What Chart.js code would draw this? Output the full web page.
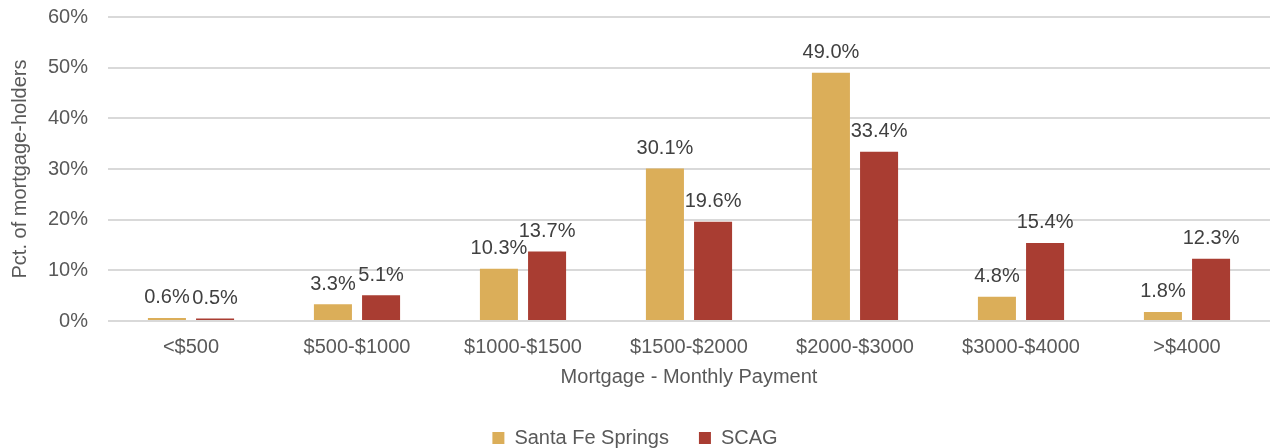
<!DOCTYPE html>
<html lang="en">
<head>
  <meta charset="UTF-8">
  <title>Mortgage - Monthly Payment</title>
  <style>
    html, body {
      margin: 0;
      padding: 0;
      background: #ffffff;
    }
    .wrap {
      width: 1270px;
      height: 448px;
      position: relative;
    }
  </style>
  <script src="https://cdn.jsdelivr.net/npm/chart.js"></script>
</head>
<body>
  <div class="wrap">
    <canvas id="mortgageChart"></canvas>
  </div>
  <script>
    const categories = ['<$500', '$500-$1000', '$1000-$1500', '$1500-$2000', '$2000-$3000', '$3000-$4000', '>$4000'];
    const santaFeSprings = [0.6, 3.3, 10.3, 30.1, 49.0, 4.8, 1.8];
    const scag = [0.5, 5.1, 13.7, 19.6, 33.4, 15.4, 12.3];
    const yTicks = [0, 10, 20, 30, 40, 50, 60];

    const fontFamily = '"Liberation Sans", Arial, sans-serif';
    const textGray = '#595959';

    // draws the value above each bar
    const barLabels = {
      id: 'barLabels',
      afterDatasetsDraw(chart) {
        const ctx = chart.ctx;
        ctx.save();
        ctx.font = '20px ' + fontFamily;
        ctx.fillStyle = '#404040';
        ctx.textAlign = 'center';
        ctx.textBaseline = 'bottom';
        chart.data.datasets.forEach((ds, i) => {
          chart.getDatasetMeta(i).data.forEach((bar, j) => {
            ctx.fillText(ds.data[j].toFixed(1) + '%', bar.x, bar.y - 10);
          });
        });
        ctx.restore();
      }
    };

    new Chart(document.getElementById('mortgageChart'), {
      type: 'bar',
      data: {
        labels: categories,
        datasets: [
          {
            label: 'Santa Fe Springs',
            data: santaFeSprings,
            backgroundColor: '#DBAE59',
            categoryPercentage: 0.58,
            barPercentage: 0.79
          },
          {
            label: 'SCAG',
            data: scag,
            backgroundColor: '#A93D32',
            categoryPercentage: 0.58,
            barPercentage: 0.79
          }
        ]
      },
      options: {
        responsive: true,
        maintainAspectRatio: false,
        animation: false,
        layout: {
          padding: { top: 17, right: 0, left: 0, bottom: -10 }
        },
        plugins: {
          legend: {
            position: 'bottom',
            labels: {
              color: textGray,
              font: { family: fontFamily, size: 20 },
              boxWidth: 12,
              boxHeight: 12,
              padding: 30
            }
          },
          tooltip: { enabled: false }
        },
        scales: {
          x: {
            grid: { display: false },
            border: { display: false },
            ticks: {
              color: textGray,
              font: { family: fontFamily, size: 20 },
              padding: 6
            },
            title: {
              display: true,
              text: 'Mortgage - Monthly Payment',
              color: textGray,
              font: { family: fontFamily, size: 20 },
              padding: { top: 0, bottom: 9 }
            }
          },
          y: {
            min: 0,
            max: 60,
            afterBuildTicks(scale) {
              scale.ticks = yTicks.map(v => ({ value: v }));
            },
            afterFit(scale) {
              scale.width = 108;
              scale.paddingTop = 0;
              scale.paddingBottom = 0;
            },
            grid: { color: '#d9d9d9', lineWidth: 2, drawTicks: false },
            border: { display: false },
            ticks: {
              color: textGray,
              font: { family: fontFamily, size: 20 },
              padding: 20,
              callback: v => v + '%'
            },
            title: {
              display: true,
              text: 'Pct. of mortgage-holders',
              color: textGray,
              font: { family: fontFamily, size: 20 },
              padding: { top: 8, bottom: 4 }
            }
          }
        }
      },
      plugins: [barLabels]
    });
  </script>
</body>
</html>
